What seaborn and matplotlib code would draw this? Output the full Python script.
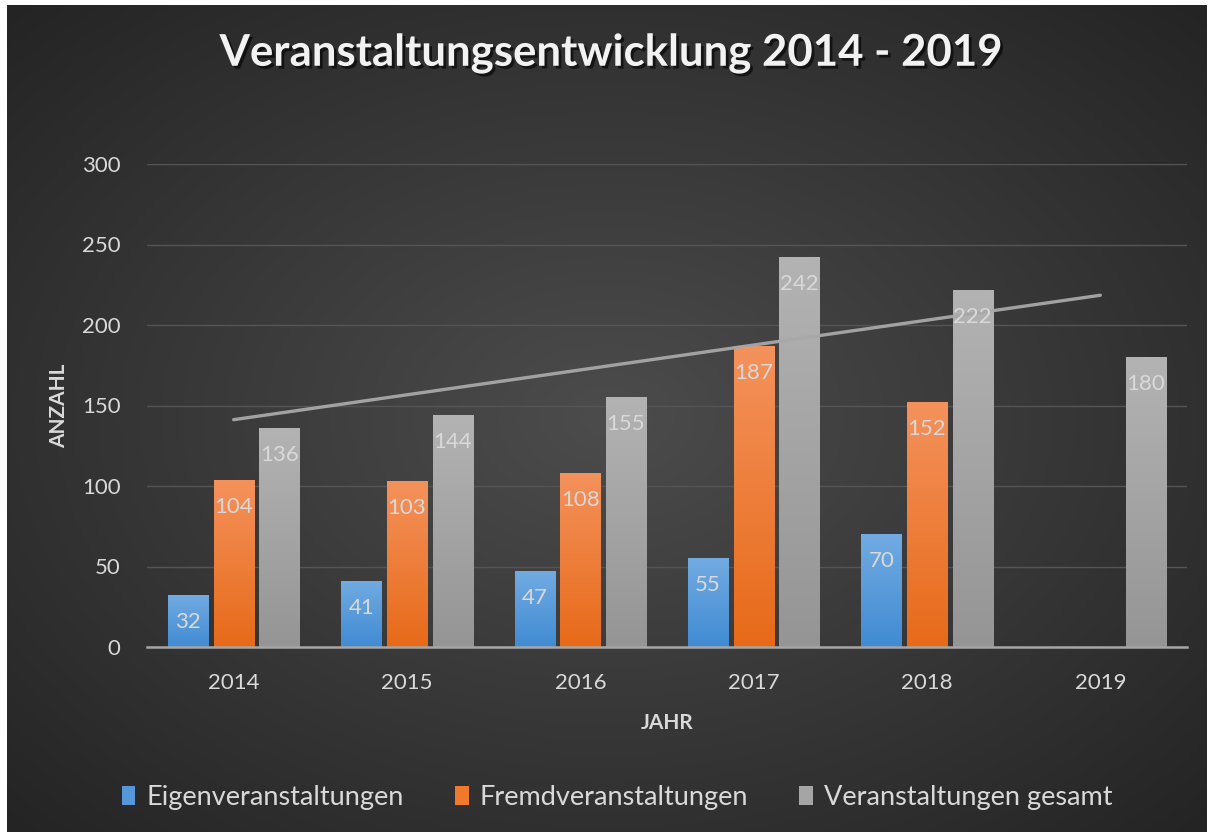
import numpy as np
import pandas as pd
import matplotlib
matplotlib.use("Agg")
import matplotlib.pyplot as plt
import seaborn as sns
from matplotlib.colors import LinearSegmentedColormap
import matplotlib.patheffects as pe

# ---------------- data ----------------
years = ["2014", "2015", "2016", "2017", "2018", "2019"]
eigen = [32, 41, 47, 55, 70, np.nan]
fremd = [104, 103, 108, 187, 152, np.nan]
gesamt = [136, 144, 155, 242, 222, 180]
series_names = ["Eigenveranstaltungen", "Fremdveranstaltungen", "Veranstaltungen gesamt"]
title_text = "Veranstaltungsentwicklung 2014 - 2019"
ylabel_text = "ANZAHL"
xlabel_text = "JAHR"
yticks = [0, 50, 100, 150, 200, 250, 300]

df = pd.DataFrame({
    "Jahr": years * 3,
    "Serie": np.repeat(series_names, len(years)),
    "Wert": eigen + fremd + gesamt,
})

# ---------------- style ----------------
sns.set_style("dark")
plt.rcParams["font.family"] = ["Lato", "DejaVu Sans"]

base_colors = ["#5597d8", "#ef7a2c", "#a5a5a5"]
top_colors = ["#72abe2", "#f4925c", "#b3b3b3"]
bottom_colors = ["#418bd2", "#e76a19", "#959595"]
text_col = "#d9d9d9"

W, H = 1213, 832
fig = plt.figure(figsize=(W / 100, H / 100), dpi=100, facecolor="white")

# background radial gradient panel
bg = fig.add_axes([7 / W, 0, (W - 13) / W, (H - 5) / H])
bg.set_axis_off()
gy, gx = np.mgrid[0:1:400j, 0:1:600j]
r = np.sqrt(((gx - 0.5) / 0.75) ** 2 + ((gy - 0.5) / 0.75) ** 2)
r = np.clip(r, 0, 1)
bg_cmap = LinearSegmentedColormap.from_list("bg", ["#4c4c4c", "#383838", "#242424"])
bg.imshow(r, cmap=bg_cmap, aspect="auto", extent=[0, 1, 0, 1], origin="lower")
bg.set_zorder(-10)

# main axes
ax = fig.add_axes([147 / W, 1 - 647 / H, 1040 / W, 483 / H])
ax.patch.set_alpha(0)

sns.barplot(data=df, x="Jahr", y="Wert", hue="Serie", palette=base_colors,
            width=0.79, gap=0.12, ax=ax, saturation=1, errorbar=None,
            legend=True, zorder=2, linewidth=0, edgecolor="none")

ax.set_xlim(-0.5, 5.5)
ax.set_ylim(0, 300)

# gradient fill on bars
for ci, cont in enumerate(ax.containers):
    cmap = LinearSegmentedColormap.from_list(f"g{ci}", [bottom_colors[ci], top_colors[ci]])
    for bar in cont:
        h = bar.get_height()
        if not np.isfinite(h) or h <= 0:
            continue
        x0, w = bar.get_x(), bar.get_width()
        grad = np.linspace(0, 1, 256).reshape(-1, 1)
        im = ax.imshow(grad, cmap=cmap, aspect="auto", origin="lower",
                       extent=[x0, x0 + w, 0, h], zorder=2.1)
        im.set_clip_path(bar)
        ax.annotate(f"{int(h)}", (x0 + w / 2, h), xytext=(0, -27),
                    textcoords="offset pixels", ha="center", va="center",
                    fontsize=16, color=text_col, zorder=5)

ax.set_xlim(-0.5, 5.5)
ax.set_ylim(0, 300)
ax.set_aspect("auto")

# linear trend of the total
xs = np.arange(len(years))
coef = np.polyfit(xs, gesamt, 1)
ax.plot(xs[[0, -1]], np.polyval(coef, xs[[0, -1]]), color="#a8a8a8", lw=2.4,
        solid_capstyle="round", zorder=4, alpha=0.95)

# grid and spines
ax.set_yticks(yticks)
ax.yaxis.grid(True, color="#555555", lw=1.0, zorder=0)
ax.xaxis.grid(False)
for s in ["left", "right", "top"]:
    ax.spines[s].set_visible(False)
ax.spines["bottom"].set_color("#a6a6a6")
ax.spines["bottom"].set_linewidth(1.8)
ax.spines["bottom"].set_zorder(6)
ax.tick_params(axis="both", length=0, labelsize=16, labelcolor=text_col)
ax.tick_params(axis="y", pad=19)
ax.tick_params(axis="x", pad=19)

ax.set_xlabel(xlabel_text, fontsize=15, fontweight="bold", color=text_col, labelpad=14)
ax.set_ylabel(ylabel_text, fontsize=15, fontweight="bold", color=text_col, labelpad=9)

# title
fig.text(611 / W, 1 - 53 / H, title_text, ha="center", va="center",
         fontsize=31.5, fontweight="bold", color="#f2f2f2",
         path_effects=[pe.withSimplePatchShadow(offset=(2, -2), shadow_rgbFace="black", alpha=0.6)])

# legend
sns.move_legend(ax, "center", bbox_to_anchor=(617 / W, 1 - 797 / H),
                bbox_transform=fig.transFigure, ncol=3, frameon=False, title=None,
                fontsize=19.5, handlelength=0.5, handleheight=0.7, handletextpad=0.4,
                columnspacing=1.9, labelcolor=text_col)

fig.savefig("out.png", dpi=100, facecolor="white")
